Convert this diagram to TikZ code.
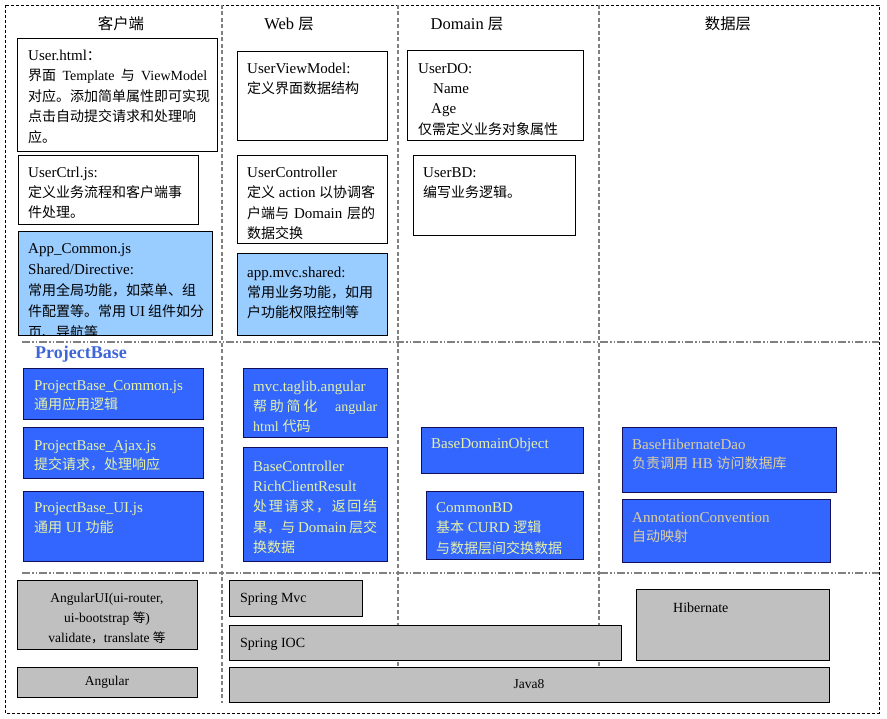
\documentclass[tikz,border=0pt]{standalone}
\usepackage{fontspec}
\setmainfont{Liberation Serif}
\newfontfamily\cjkfont[Scale=0.933]{Noto Sans CJK SC}
\newXeTeXintercharclass\cjkcls
\newcount\cjkcnt
\newcommand\setcjkrange[2]{\cjkcnt=#1\relax\loop\XeTeXcharclass\cjkcnt=\cjkcls\relax\ifnum\cjkcnt<#2\relax\advance\cjkcnt by 1\relax\repeat}
\setcjkrange{"3000}{"303F}
\setcjkrange{"4E00}{"9FFF}
\setcjkrange{"FF00}{"FFEF}
\XeTeXinterchartoks 0 \cjkcls = {\cjkfont}
\XeTeXinterchartoks 4095 \cjkcls = {\cjkfont}
\XeTeXinterchartoks \cjkcls 0 = {\rmfamily}
\XeTeXinterchartoks \cjkcls 4095 = {\rmfamily}
\XeTeXinterchartokenstate=1
\definecolor{lbfill}{HTML}{99CCFF}
\definecolor{bfill}{HTML}{3366FF}
\definecolor{bnavy}{HTML}{10105A}
\definecolor{gfill}{HTML}{C0C0C0}
\definecolor{ytext}{HTML}{E6F2A6}
\definecolor{ttext}{HTML}{DCCFA0}
\definecolor{pbblue}{HTML}{3F66D6}
\definecolor{sepgray}{HTML}{808080}
\newcommand\myst{\rule{0pt}{14pt}}
\begin{document}
\begin{tikzpicture}[x=1pt,y=-1pt,
 bx/.style={anchor=north west, inner sep=0pt, outer sep=0pt, line width=0.9pt},
 wbox/.style={bx, draw=black, fill=white},
 lbox/.style={bx, draw=black, fill=lbfill},
 bbox/.style={bx, draw=bnavy, fill=bfill},
 gbox/.style={bx, draw=black, fill=gfill, align=center, font=\fontsize{13.5}{20}\selectfont},
 tx/.style={anchor=north west, inner sep=0pt, align=left, font=\fontsize{15}{20}\selectfont},
 ytx/.style={tx, text=ytext},
 ttx/.style={tx, text=ttext},
 hdr/.style={inner sep=0pt, font=\fontsize{16.5}{20}\selectfont},
 outerline/.style={draw=black, line width=0.8pt, dash pattern=on 3pt off 2pt},
 vsep/.style={draw=sepgray, line width=1.2pt, dash pattern=on 4pt off 2.5pt},
 hsep/.style={draw=sepgray, line width=1.2pt, dash pattern=on 8pt off 2pt on 1.5pt off 2pt on 1.5pt off 2pt},
]
\useasboundingbox (0,0) rectangle (887,719);
% frame and separators
\draw[outerline] (5,5) rectangle (879,713);
\draw[vsep] (222,5) -- (222,703);
\draw[vsep] (398,5) -- (398,667);
\draw[vsep] (599,5) -- (599,667);
\draw[hsep] (22,342) -- (879,342);
\draw[hsep] (22,573) -- (879,573);
% headers
\node[hdr] (h1) at (121,24) {客户端};
\node[hdr] (h2) at (289,24) {Web 层};
\node[hdr] (h3) at (467,24) {Domain 层};
\node[hdr] (h4) at (728,24) {数据层};
% client column
\node[wbox, minimum width=200, minimum height=113] (userhtml) at (17,38) {};
\node[tx, font=\fontsize{15}{20.5}\selectfont] (userhtmlt) at (28,46) {\myst User.html：\\ \makebox[179pt][s]{界面 {\fontsize{14}{20}\selectfont Template} 与 {\fontsize{14}{20}\selectfont ViewModel}}\\ 对应。添加简单属性即可实现\\ 点击自动提交请求和处理响\\ 应。};
\node[wbox, minimum width=180, minimum height=69] (userctrl) at (18,155) {};
\node[tx] (userctrlt) at (28,163) {\myst UserCtrl.js:\\ 定义业务流程和客户端事\\ 件处理。};
\node[lbox, minimum width=194, minimum height=104] (appcommon) at (18,231) {};
\begin{scope}
\clip (18,231) rectangle (212,334.5);
\node[tx, font=\fontsize{15}{21}\selectfont] (appcommont) at (28,239) {\myst App\_Common.js\\ Shared/Directive:\\ 常用全局功能，如菜单、组\\ \makebox[176pt][s]{件配置等。常用 UI 组件如分}\\ 页、导航等};
\end{scope}
% web column
\node[wbox, minimum width=150, minimum height=89] (uvm) at (237,51) {};
\node[tx] (uvmt) at (247,59) {\myst UserViewModel:\\ 定义界面数据结构};
\node[wbox, minimum width=150, minimum height=88] (uctl) at (237,155) {};
\node[tx, font=\fontsize{15}{20.5}\selectfont] (uctlt) at (247,163) {\myst UserController\\ \makebox[128pt][s]{定义 action 以协调客}\\ \makebox[128pt][s]{户端与 Domain 层的}\\ 数据交换};
\node[lbox, minimum width=150, minimum height=82] (appmvc) at (237,253) {};
\node[tx] (appmvct) at (247,263) {\myst app.mvc.shared:\\ 常用业务功能，如用\\ 户功能权限控制等};
% domain column
\node[wbox, minimum width=176, minimum height=90] (userdo) at (407,50) {};
\node[tx, font=\fontsize{15}{20.3}\selectfont] (userdot) at (418,59) {\myst UserDO:\\ \hspace*{15pt}Name\\ \hspace*{13pt}Age\\ 仅需定义业务对象属性};
\node[wbox, minimum width=162, minimum height=80] (userbd) at (413,155) {};
\node[tx] (userbdt) at (423,163) {\myst UserBD:\\ 编写业务逻辑。};
% ProjectBase row
\node[anchor=base west, inner sep=0pt, font=\fontsize{18}{20}\selectfont\bfseries, text=pbblue] (pb) at (35,359) {ProjectBase};
\node[bbox, minimum width=180, minimum height=51] (pbc) at (23,368) {};
\node[ytx, font=\fontsize{15}{19}\selectfont] (pbct) at (34,376) {\myst ProjectBase\_Common.js\\ 通用应用逻辑};
\node[bbox, minimum width=180, minimum height=51] (pba) at (23,427) {};
\node[ytx, font=\fontsize{15}{19}\selectfont] (pbat) at (34,436) {\myst ProjectBase\_Ajax.js\\ 提交请求，处理响应};
\node[bbox, minimum width=180, minimum height=70] (pbu) at (23,491) {};
\node[ytx] (pbut) at (34,498) {\myst ProjectBase\_UI.js\\ 通用 UI 功能};
\node[bbox, minimum width=144, minimum height=69] (taglib) at (243,368) {};
\node[ytx] (taglibt) at (253,377) {\myst mvc.taglib.angular\\ \makebox[124pt][s]{帮 助 简 化 \quad{\fontsize{14}{20}\selectfont angular}}\\ {\fontsize{14}{20}\selectfont html} 代码};
\node[bbox, minimum width=144, minimum height=114] (basectl) at (243,447) {};
\node[ytx, font=\fontsize{15}{20.3}\selectfont] (basectlt) at (253,457) {\myst BaseController\\ RichClientResult\\ \makebox[124pt][s]{处\hfil 理\hfil 请\hfil 求\hfil ，\hfil 返\hfil 回\hfil 结}\\ \makebox[124pt][s]{果，与 Domain 层交}\\ 换数据};
\node[bbox, minimum width=162, minimum height=46] (bdo) at (421,427) {};
\node[ytx] (bdot) at (431,434) {\myst BaseDomainObject};
\node[bbox, minimum width=157, minimum height=68] (cbd) at (426,491) {};
\node[ytx, font=\fontsize{15}{20.5}\selectfont] (cbdt) at (436,498) {\myst CommonBD\\ 基本 CURD 逻辑\\ 与数据层间交换数据};
\node[bbox, minimum width=214, minimum height=65] (bhd) at (622,427) {};
\node[ttx, font=\fontsize{15}{19}\selectfont] (bhdt) at (632,435) {\myst BaseHibernateDao\\ 负责调用 HB 访问数据库};
\node[bbox, minimum width=208, minimum height=63] (anno) at (622,499) {};
\node[ttx, font=\fontsize{15}{19}\selectfont] (annot) at (632,508) {\myst AnnotationConvention\\ 自动映射};
% base frameworks
\node[gbox, minimum width=180, minimum height=69] (angui) at (17,580) {};
\node[align=center, inner sep=0pt, font=\fontsize{13.5}{20}\selectfont] (anguit) at (107,618) {AngularUI(ui-router,\\ ui-bootstrap 等)\\ validate，translate 等};
\node[gbox, minimum width=180, minimum height=30] (angular) at (17,667) {Angular};
\node[gbox, minimum width=133, minimum height=36] (smvc) at (229,580) {};
\node[tx, font=\fontsize{14}{20}\selectfont] (smvct) at (240,588) {\myst Spring Mvc};
\node[gbox, minimum width=392, minimum height=35] (sioc) at (229,625) {};
\node[tx, font=\fontsize{14}{20}\selectfont] (sioct) at (240,633) {\myst Spring IOC};
\node[gbox, minimum width=193, minimum height=71] (hib) at (636,589) {};
\node[tx, font=\fontsize{14}{20}\selectfont] (hibt) at (673,598) {\myst Hibernate};
\node[gbox, minimum width=600, minimum height=35] (java) at (229,667) {Java8};
\end{tikzpicture}
\end{document}
